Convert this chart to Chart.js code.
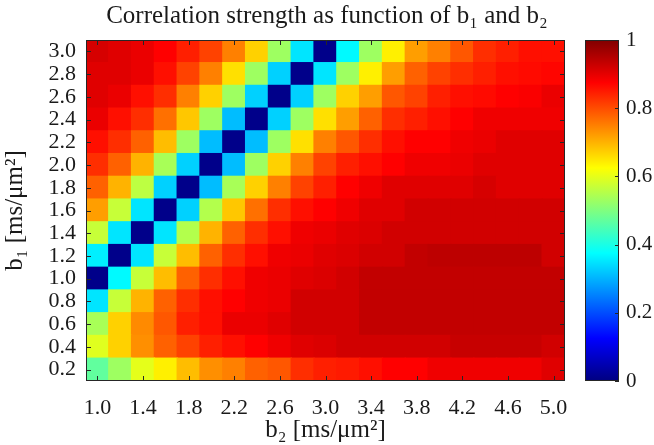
<!DOCTYPE html>
<html>
<head>
<meta charset="utf-8">
<script src="https://cdn.jsdelivr.net/npm/chart.js@4.4.1/dist/chart.umd.min.js"></script>
<style>
html, body { margin: 0; padding: 0; background: #fff; }
#wrap { position: relative; width: 654px; height: 445px; }
#wrap canvas { position: absolute; left: 0; top: 0; }
</style>
</head>
<body>
<div id="wrap">
  <canvas id="heat" width="654" height="445"></canvas>
  <canvas id="cbar" width="654" height="445"></canvas>
</div>
<script>
// b2 columns (x) and b1 rows (y), in ms/um^2
const b2Values = ['1.0','1.2','1.4','1.6','1.8','2.0','2.2','2.4','2.6','2.8','3.0',
                  '3.2','3.4','3.6','3.8','4.0','4.2','4.4','4.6','4.8','5.0'];
const b1Values = [0.2, 0.4, 0.6, 0.8, 1.0, 1.2, 1.4, 1.6, 1.8, 2.0, 2.2, 2.4, 2.6, 2.8, 3.0];
const colorbarTicks = [0, 0.2, 0.4, 0.6, 0.8, 1];

// correlation strength, one row per b1 value (columns follow b2Values)
const corrB1_02 = [0.47,0.53,0.60,0.64,0.69,0.735,0.75,0.78,0.79,0.83,0.845,0.85,0.86,0.875,0.875,0.89,0.89,0.89,0.89,0.89,0.905];
const corrB1_04 = [0.595,0.67,0.735,0.78,0.81,0.845,0.86,0.875,0.89,0.905,0.91,0.92,0.92,0.92,0.92,0.92,0.93,0.93,0.93,0.93,0.92];
const corrB1_06 = [0.54,0.67,0.74,0.79,0.845,0.86,0.895,0.895,0.905,0.92,0.92,0.92,0.935,0.935,0.935,0.935,0.935,0.935,0.935,0.935,0.935];
const corrB1_08 = [0.35,0.57,0.70,0.78,0.83,0.86,0.875,0.89,0.895,0.92,0.92,0.92,0.935,0.935,0.935,0.935,0.935,0.935,0.935,0.935,0.935];
const corrB1_10 = [0.01,0.37,0.57,0.69,0.78,0.83,0.86,0.89,0.895,0.905,0.91,0.92,0.935,0.935,0.935,0.935,0.935,0.935,0.935,0.935,0.935];
const corrB1_12 = [0.36,0.01,0.35,0.57,0.69,0.78,0.83,0.86,0.89,0.895,0.905,0.91,0.92,0.92,0.935,0.94,0.94,0.94,0.94,0.94,0.92];
const corrB1_14 = [0.57,0.35,0.01,0.35,0.55,0.70,0.78,0.83,0.86,0.89,0.895,0.905,0.91,0.92,0.92,0.92,0.92,0.92,0.92,0.92,0.92];
const corrB1_16 = [0.72,0.57,0.35,0.01,0.33,0.55,0.68,0.765,0.83,0.86,0.875,0.89,0.905,0.905,0.92,0.92,0.92,0.92,0.92,0.92,0.92];
const corrB1_18 = [0.78,0.70,0.56,0.33,0.01,0.31,0.54,0.67,0.75,0.81,0.845,0.875,0.89,0.905,0.905,0.905,0.905,0.915,0.905,0.905,0.905];
const corrB1_20 = [0.83,0.78,0.70,0.54,0.33,0.01,0.31,0.53,0.67,0.75,0.81,0.845,0.86,0.875,0.89,0.89,0.895,0.905,0.905,0.905,0.905];
const corrB1_22 = [0.86,0.83,0.78,0.69,0.53,0.31,0.01,0.31,0.53,0.655,0.75,0.79,0.83,0.86,0.875,0.875,0.89,0.895,0.905,0.905,0.905];
const corrB1_24 = [0.895,0.86,0.83,0.765,0.68,0.53,0.31,0.01,0.33,0.53,0.655,0.72,0.78,0.83,0.845,0.86,0.875,0.89,0.89,0.89,0.89];
const corrB1_26 = [0.905,0.895,0.86,0.83,0.75,0.67,0.53,0.33,0.01,0.33,0.53,0.67,0.72,0.79,0.81,0.845,0.86,0.865,0.875,0.88,0.895];
const corrB1_28 = [0.905,0.905,0.895,0.86,0.81,0.75,0.655,0.53,0.33,0.01,0.35,0.53,0.64,0.72,0.78,0.81,0.83,0.845,0.86,0.865,0.87];
const corrB1_30 = [0.915,0.905,0.895,0.875,0.845,0.81,0.75,0.67,0.53,0.35,0.01,0.37,0.53,0.64,0.72,0.75,0.79,0.83,0.845,0.86,0.86];

const corrRows = [corrB1_02, corrB1_04, corrB1_06, corrB1_08, corrB1_10, corrB1_12, corrB1_14, corrB1_16,
                  corrB1_18, corrB1_20, corrB1_22, corrB1_24, corrB1_26, corrB1_28, corrB1_30];

// matlab "jet" colormap
function jet(v) {
    const c = x => Math.round(255 * Math.max(0, Math.min(1, x)));
    const r = c(Math.min(4 * v - 1.5, -4 * v + 4.5));
    const g = c(Math.min(4 * v - 0.5, -4 * v + 3.5));
    const b = c(Math.min(4 * v + 0.5, -4 * v + 2.5));
    return `rgb(${r},${g},${b})`;
}
const jetStops = [0, 0.125, 0.375, 0.625, 0.875, 1];

const serif = "'Liberation Serif', 'DejaVu Serif', serif";
const textColor = '#1a1a1a';
const halfStep = 0.1;

// box round the plot with small inward ticks, like matlab
const boxPlugin = {
    id: 'box',
    afterDatasetsDraw(chart) {
        const { ctx, chartArea: a, scales } = chart;
        const len = 5;
        ctx.save();
        ctx.strokeStyle = '#262626';
        ctx.lineWidth = 1;
        ctx.strokeRect(a.left + 0.5, a.top + 0.5, a.width - 1, a.height - 1);
        ctx.beginPath();
        scales.x.ticks.forEach((t, i) => {
            if (i % 2) return;
            const x = Math.round(scales.x.getPixelForTick(i)) + 0.5;
            ctx.moveTo(x, a.bottom); ctx.lineTo(x, a.bottom - len);
            ctx.moveTo(x, a.top); ctx.lineTo(x, a.top + len);
        });
        b1Values.forEach(v => {
            const y = Math.round(scales.y.getPixelForValue(v)) + 0.5;
            ctx.moveTo(a.left, y); ctx.lineTo(a.left + len, y);
            ctx.moveTo(a.right, y); ctx.lineTo(a.right - len, y);
        });
        ctx.stroke();
        ctx.restore();
    }
};

const heatDatasets = corrRows.map((row, i) => ({
    label: 'b1 = ' + b1Values[i].toFixed(1),
    data: row.map(() => [b1Values[i] - halfStep, b1Values[i] + halfStep]),
    corr: row,
    backgroundColor: row.map(jet),
    borderWidth: 0,
    inflateAmount: 0.7,
    barPercentage: 1,
    categoryPercentage: 1,
    grouped: false
}));

new Chart(document.getElementById('heat'), {
    type: 'bar',
    data: { labels: b2Values, datasets: heatDatasets },
    options: {
        responsive: false,
        animation: false,
        layout: { padding: 0 },
        plugins: {
            legend: { display: false },
            title: {
                display: true,
                text: 'Correlation strength as function of b\u2081 and b\u2082',
                font: { family: serif, size: 25, weight: 'normal' },
                color: textColor,
                padding: { top: 1, bottom: 9 }
            },
            tooltip: {
                callbacks: {
                    label: c => `${c.dataset.label}: ${c.dataset.corr[c.dataIndex]}`
                }
            }
        },
        scales: {
            x: {
                type: 'category',
                grid: { display: false, drawTicks: false },
                border: { display: false },
                ticks: {
                    autoSkip: false, maxRotation: 0, padding: 14,
                    font: { family: serif, size: 22 }, color: textColor,
                    callback: (v, i) => (i % 2 === 0 ? b2Values[i] : '')
                },
                title: {
                    display: true, text: 'b\u2082 [ms/\u03bcm\u00b2]',
                    font: { family: serif, size: 25 }, color: textColor, padding: 0
                },
                afterFit: s => { s.height = 64; }
            },
            y: {
                min: b1Values[0] - halfStep,
                max: b1Values[b1Values.length - 1] + halfStep,
                afterBuildTicks: s => { s.ticks = b1Values.map(v => ({ value: v })); },
                grid: { display: false, drawTicks: false },
                border: { display: false },
                ticks: {
                    autoSkip: false, padding: 10,
                    font: { family: serif, size: 22 }, color: textColor,
                    callback: v => Number(v).toFixed(1)
                },
                title: {
                    display: true, text: 'b\u2081 [ms/\u03bcm\u00b2]',
                    font: { family: serif, size: 25 }, color: textColor, padding: 0
                },
                afterFit: s => { s.width = 86; }
            },
            yRight: {
                position: 'right',
                grid: { display: false },
                border: { display: false },
                ticks: { display: false },
                afterFit: s => { s.width = 89; }
            }
        }
    },
    plugins: [boxPlugin]
});

// colour bar
const cbarBoxPlugin = {
    id: 'cbarBox',
    afterDatasetsDraw(chart) {
        const { ctx, chartArea: a, scales } = chart;
        ctx.save();
        ctx.strokeStyle = '#262626';
        ctx.lineWidth = 1;
        ctx.strokeRect(a.left + 0.5, a.top + 0.5, a.width - 1, a.height - 1);
        ctx.beginPath();
        colorbarTicks.forEach(v => {
            const y = Math.round(scales.y.getPixelForValue(v)) + 0.5;
            ctx.moveTo(a.right, y); ctx.lineTo(a.right - 4, y);
        });
        ctx.stroke();
        ctx.restore();
    }
};

new Chart(document.getElementById('cbar'), {
    type: 'bar',
    data: {
        labels: [''],
        datasets: [{
            data: [[colorbarTicks[0], colorbarTicks[colorbarTicks.length - 1]]],
            backgroundColor: c => {
                const a = c.chart.chartArea;
                if (!a) return null;
                const g = c.chart.ctx.createLinearGradient(0, a.bottom, 0, a.top);
                jetStops.forEach(s => g.addColorStop(s, jet(s)));
                return g;
            },
            borderWidth: 0,
            barPercentage: 1,
            categoryPercentage: 1
        }]
    },
    options: {
        responsive: false,
        animation: false,
        events: [],
        layout: { padding: { left: 585, top: 40, bottom: 64, right: 0 } },
        plugins: { legend: { display: false }, tooltip: { enabled: false } },
        scales: {
            x: { display: false },
            y: {
                position: 'right',
                min: 0, max: 1,
                afterBuildTicks: s => { s.ticks = colorbarTicks.map(v => ({ value: v })); },
                grid: { display: false, drawTicks: false },
                border: { display: false },
                ticks: {
                    padding: 7,
                    font: { family: serif, size: 21 }, color: textColor,
                    callback: v => (v === 0 || v === 1 ? String(v) : Number(v).toFixed(1))
                },
                afterFit: s => { s.width = 35; }
            }
        }
    },
    plugins: [cbarBoxPlugin]
});
</script>
</body>
</html>
